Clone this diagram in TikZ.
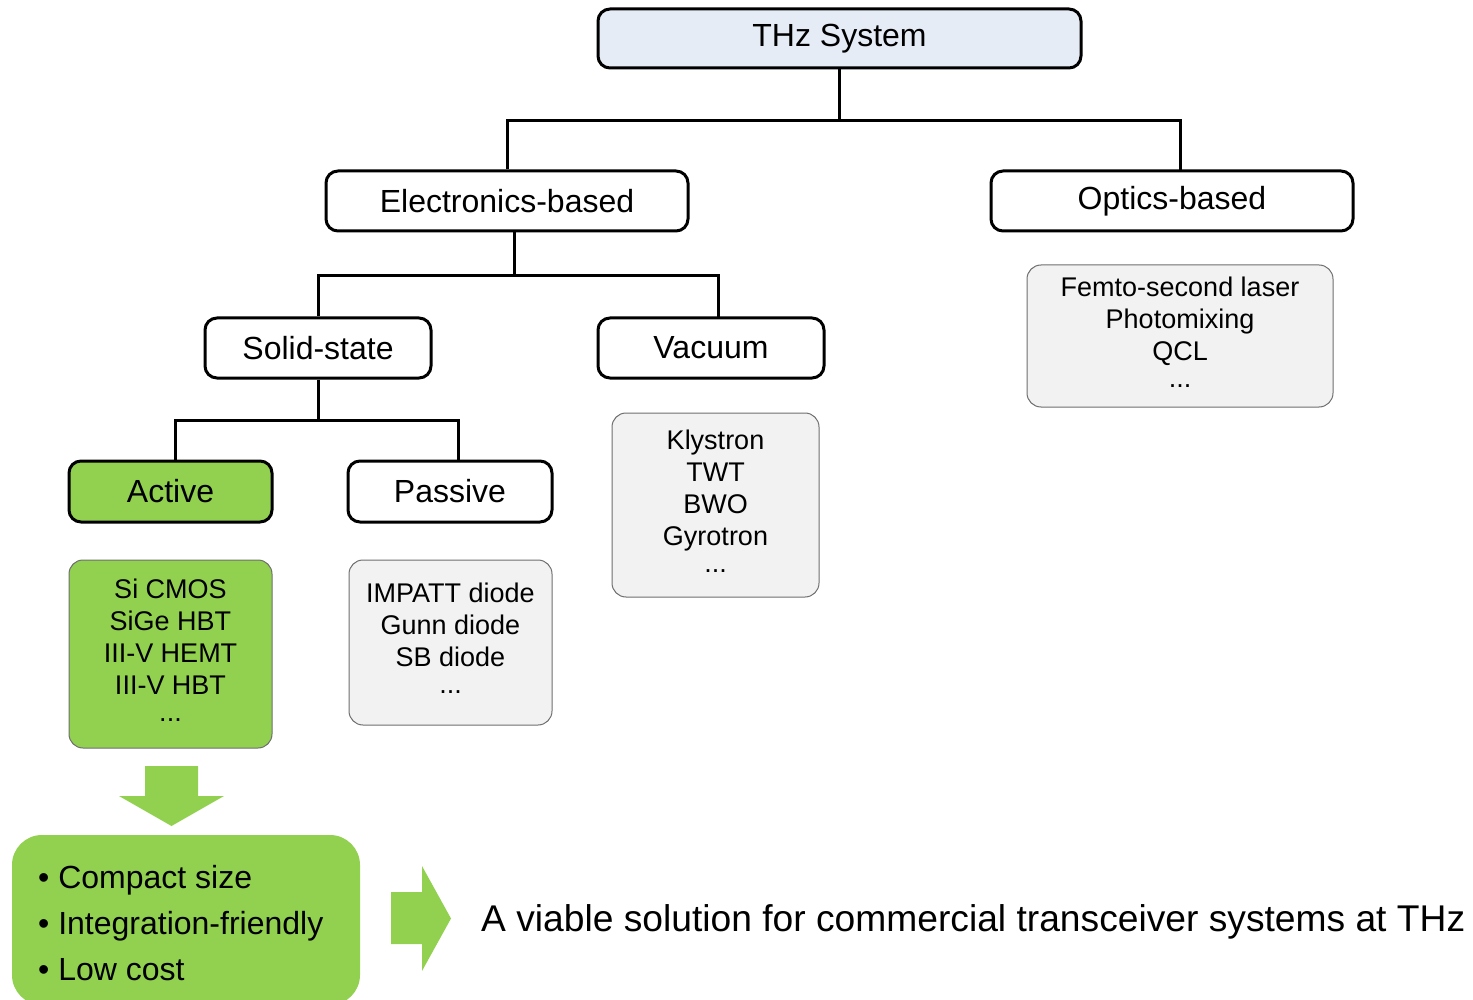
\documentclass[tikz,border=0pt]{standalone}
\usepackage{fontspec}
\setmainfont{Liberation Sans}
\definecolor{leafgreen}{HTML}{92D050}
\definecolor{paleblue}{HTML}{E6ECF6}
\definecolor{listgrey}{HTML}{F2F2F2}
\definecolor{rimgrey}{HTML}{6E6E6E}
\tikzset{
  catbox/.style={draw=black, line width=3pt, rounded corners=12pt, fill=white,
    inner sep=0pt, font=\fontsize{32}{38}\selectfont},
  listbox/.style={draw=rimgrey, line width=1pt, rounded corners=14pt, fill=listgrey,
    inner sep=0pt, align=center, font=\fontsize{27}{32}\selectfont},
  listtext/.style={inner sep=0pt, align=center, font=\fontsize{27}{32}\selectfont},
  link/.style={line width=3pt, black},
  blockarrow/.style={fill=leafgreen, draw=none}
}
\newcommand{\moredots}{\\[-5pt]...}
\begin{document}
\begin{tikzpicture}[x=1pt,y=-1pt]
\useasboundingbox (0,0) rectangle (1473,1000);

% category boxes
\node[catbox, fill=paleblue, minimum width=483pt, minimum height=59pt] (thz) at (839.5,38.5) {THz System};
\node[catbox, minimum width=362pt, minimum height=60pt] (elec) at (507,201) {Electronics-based};
\node[catbox, minimum width=362pt, minimum height=60pt] (opt) at (1172,201) {Optics-based};
\node[catbox, minimum width=226pt, minimum height=60pt] (solid) at (318,348) {Solid-state};
\node[catbox, minimum width=226pt, minimum height=60pt] (vac) at (711,348) {Vacuum};
\node[catbox, fill=leafgreen, minimum width=203pt, minimum height=61pt] (act) at (170.5,491.5) {Active};
\node[catbox, minimum width=204pt, minimum height=61pt] (pas) at (450,491.5) {Passive};

% example lists: box and its centred text
\node[listbox, fill=leafgreen, minimum width=203pt, minimum height=188pt] (actlist) at (170.5,654) {};
\node[listtext] (acttext) at (170.5,650)
  {Si CMOS\\SiGe HBT\\III-V HEMT\\III-V HBT\moredots};
\node[listbox, minimum width=203pt, minimum height=165pt] (paslist) at (450.5,642.5) {};
\node[listtext] (pastext) at (450.5,638.5)
  {IMPATT diode\\Gunn diode\\SB diode\moredots};
\node[listbox, minimum width=207pt, minimum height=184pt] (vaclist) at (715.5,505) {};
\node[listtext] (vactext) at (715.5,501)
  {Klystron\\TWT\\BWO\\Gyrotron\moredots};
\node[listbox, minimum width=306pt, minimum height=142pt] (optlist) at (1180,336) {};
\node[listtext] (opttext) at (1180,332.5)
  {Femto-second laser\\Photomixing\\QCL\moredots};

% tree connectors
\coordinate (j1) at (839.5,121);
\coordinate (j2) at (514,276);
\coordinate (j3) at (318,420);
\draw[link] (thz.south) -- (j1);
\draw[link] (elec.north) -- (507,121) -- (1180,121) -- (1180,171);
\draw[link] (514,231) -- (j2);
\draw[link] (solid.north) -- (318,276) -- (718,276) -- (718,318);
\draw[link] (solid.south) -- (j3);
\draw[link] (175,461) -- (175,420) -- (458,420) -- (458,461);

% down arrow
\path[blockarrow] (145,766) -- (198,766) -- (198,796) -- (224,796) -- (171.5,826)
  -- (119,796) -- (145,796) -- cycle;

% benefits box
\node[fill=leafgreen, rounded corners=30pt, minimum width=348pt, minimum height=170pt,
  inner sep=0pt] (gain) at (186,920) {};
\node[anchor=west, align=left, font=\fontsize{32}{46}\selectfont, inner sep=0pt] (gaintext) at (38,923)
  {• Compact size\\• Integration-friendly\\• Low cost};

% right arrow
\path[blockarrow] (391,892) -- (422,892) -- (422,866) -- (451,918.5) -- (422,971)
  -- (422,944) -- (391,944) -- cycle;

\node[anchor=base west, inner sep=0pt, font=\fontsize{37.2}{42}\selectfont] (concl) at (481,931)
  {A viable solution for commercial transceiver systems at THz};
\end{tikzpicture}
\end{document}
